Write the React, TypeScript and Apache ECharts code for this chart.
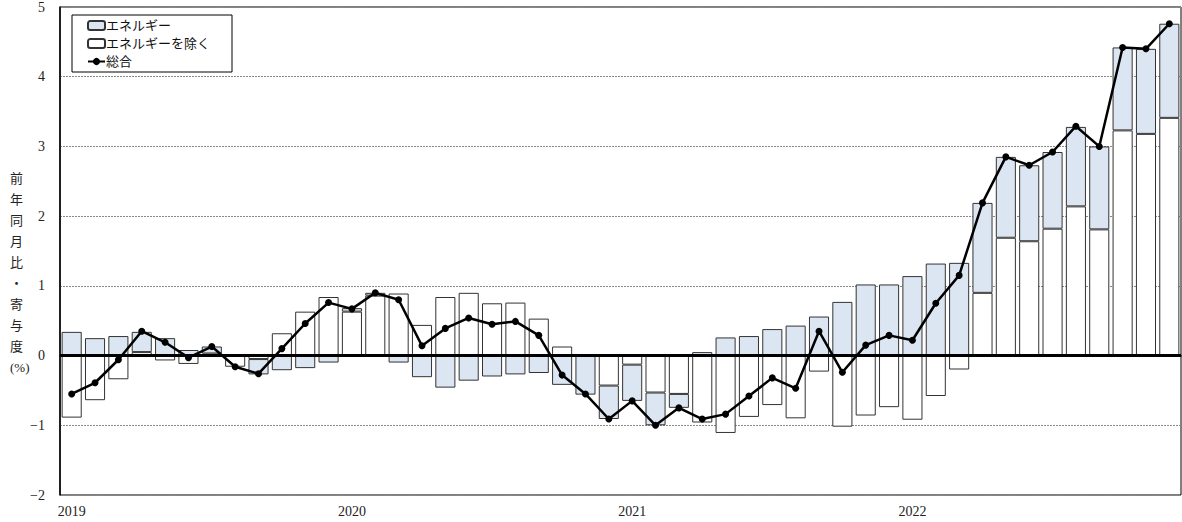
import React, { useEffect, useRef } from "react";
import * as echarts from "echarts";

const months: string[] = [];
for (const y of [2019, 2020, 2021, 2022]) {
  for (let m = 1; m <= 12; m++) months.push(`${y}-${String(m).padStart(2, "0")}`);
}

const exEnergy = [
  -0.89, -0.64, -0.34, 0.05, -0.07, -0.12, 0.03, -0.16, -0.05, 0.32, 0.63, 0.84,
  0.63, 0.86, 0.89, 0.44, 0.84, 0.9, 0.75, 0.76, 0.53, 0.13, 0.01, -0.43,
  -0.13, -0.53, -0.55, -0.96, -1.11, -0.88, -0.71, -0.9, -0.23, -1.02, -0.86, -0.74,
  -0.92, -0.58, -0.2, 0.9, 1.69, 1.64, 1.82, 2.14, 1.81, 3.23, 3.18, 3.41,
];

const energy = [
  0.34, 0.25, 0.28, 0.29, 0.25, 0.08, 0.1, 0.01, -0.22, -0.21, -0.18, -0.1,
  0.05, 0.04, -0.1, -0.31, -0.46, -0.36, -0.3, -0.27, -0.25, -0.42, -0.56, -0.48,
  -0.52, -0.47, -0.2, 0.05, 0.26, 0.28, 0.38, 0.43, 0.56, 0.77, 1.02, 1.02,
  1.14, 1.32, 1.33, 1.29, 1.16, 1.09, 1.1, 1.14, 1.19, 1.19, 1.22, 1.35,
];

const total = [
  -0.55, -0.39, -0.06, 0.35, 0.19, -0.03, 0.13, -0.16, -0.26, 0.1, 0.46, 0.76,
  0.67, 0.9, 0.8, 0.14, 0.39, 0.54, 0.45, 0.49, 0.29, -0.28, -0.55, -0.91,
  -0.65, -1.0, -0.75, -0.91, -0.84, -0.58, -0.32, -0.47, 0.35, -0.24, 0.15, 0.29,
  0.22, 0.75, 1.15, 2.19, 2.85, 2.73, 2.92, 3.29, 3.0, 4.42, 4.4, 4.76,
];

const seriesNames = ["エネルギー", "エネルギーを除く", "総合"];
const yAxisTitle = "前\n年\n同\n月\n比\n・\n寄\n与\n度\n(%)";

const FONT = "'Liberation Serif', 'DejaVu Serif', 'Noto Sans CJK JP', serif";

export default function App() {
  const ref = useRef<HTMLDivElement>(null);
  useEffect(() => {
    if (!ref.current) return;
    const chart = echarts.init(ref.current, null, { renderer: "svg" });
    chart.setOption({
      animation: false,
      backgroundColor: "#fff",
      textStyle: { fontFamily: FONT },
      grid: {
        left: 60,
        right: 1,
        top: 7,
        bottom: 27,
        show: true,
        borderColor: "#000",
        borderWidth: 1,
      },
      legend: {
        data: seriesNames,
        orient: "vertical",
        left: 72,
        top: 15,
        padding: [4, 22, 4, 15],
        itemGap: 5,
        itemWidth: 17,
        itemHeight: 9,
        backgroundColor: "#fff",
        borderColor: "#000",
        borderWidth: 1,
        borderRadius: 0,
        textStyle: { fontSize: 13, color: "#111", fontFamily: FONT, padding: [0, 0, 0, -4] },
      },
      graphic: [
        {
          type: "text",
          left: 10,
          top: 168,
          style: {
            text: yAxisTitle,
            fontSize: 13,
            lineHeight: 21,
            fill: "#222",
            align: "center",
            fontFamily: FONT,
          },
        },
      ],
      xAxis: {
        type: "category",
        data: months,
        axisLine: { show: true, lineStyle: { color: "#000", width: 1.5 } },
        axisTick: { show: false },
        axisLabel: {
          interval: 0,
          fontSize: 14,
          color: "#222",
          margin: 9,
          fontFamily: FONT,
          formatter: (v: string) => (v.endsWith("-01") ? v.slice(0, 4) : ""),
        },
        splitLine: { show: false },
      },
      yAxis: {
        type: "value",
        min: -2,
        max: 5,
        interval: 1,
        axisLine: { show: true, lineStyle: { color: "#000", width: 1.5 } },
        axisTick: { show: false },
        axisLabel: {
          fontSize: 14,
          color: "#222",
          margin: 15,
          fontFamily: FONT,
          formatter: (v: number) => String(v).replace("-", "−"),
        },
        splitLine: { show: true, lineStyle: { color: "#888", type: [2, 1], width: 1 } },
      },
      series: [
        {
          name: seriesNames[1],
          type: "bar",
          stack: "a",
          data: exEnergy,
          barCategoryGap: "14%",
          itemStyle: { color: "#ffffff", borderColor: "#333", borderWidth: 1 },
          z: 2,
        },
        {
          name: seriesNames[0],
          type: "bar",
          stack: "a",
          data: energy,
          barCategoryGap: "14%",
          itemStyle: { color: "#dce6f2", borderColor: "#333", borderWidth: 1 },
          z: 2,
          markLine: {
            silent: true,
            symbol: "none",
            label: { show: false },
            lineStyle: { color: "#000", width: 3, type: "solid" },
            data: [{ yAxis: 0 }],
            z: 5,
          },
        },
        {
          name: seriesNames[2],
          type: "line",
          data: total,
          symbol: "circle",
          symbolSize: 7,
          lineStyle: { color: "#000", width: 2.5 },
          itemStyle: { color: "#000" },
          z: 10,
        },
      ],
    });
    return () => chart.dispose();
  }, []);
  return (
    <div
      ref={ref}
      style={{ position: "fixed", left: 0, top: 0, width: 1182, height: 522 }}
    />
  );
}
